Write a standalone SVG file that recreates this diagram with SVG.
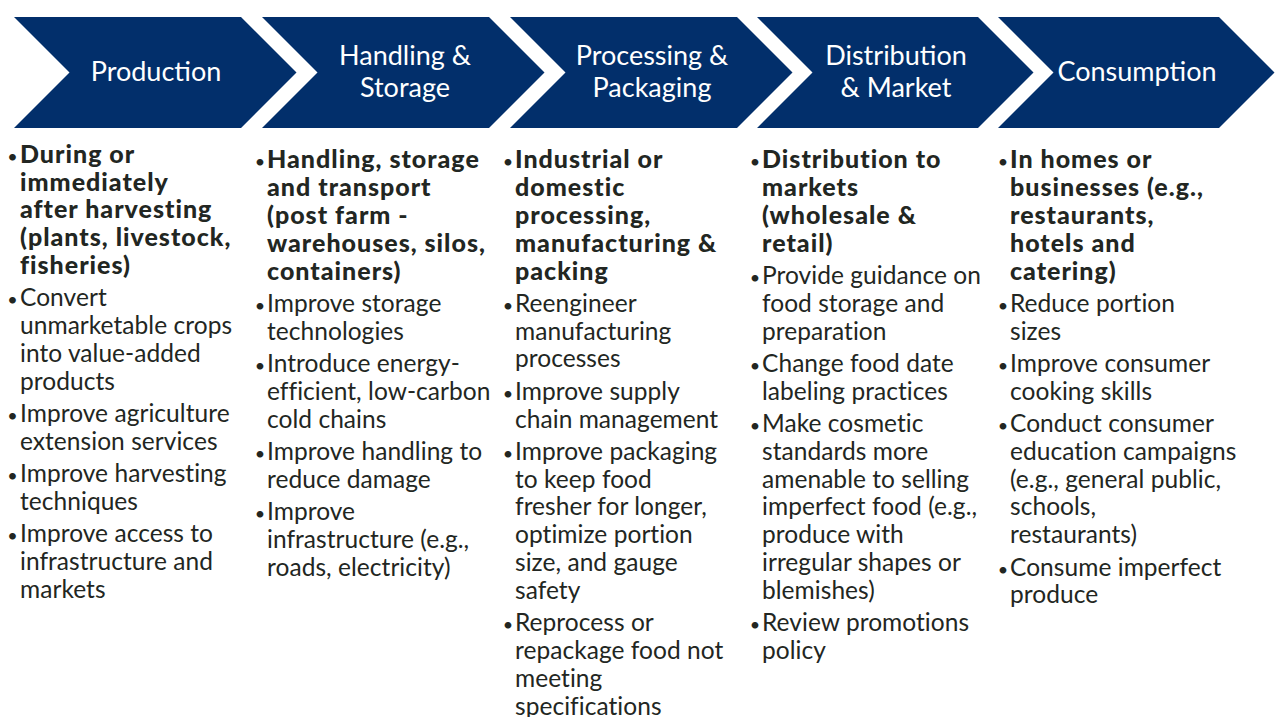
<svg xmlns="http://www.w3.org/2000/svg" width="1276" height="717" viewBox="0 0 1276 717">
<style>
.chev{fill:#022F6B}
.title{font-family:Lato,"Open Sans","Liberation Sans",sans-serif;font-size:27px;fill:#FFFFFF;text-anchor:middle}
.body{font-family:Lato,"Open Sans","Liberation Sans",sans-serif;font-size:24.5px;letter-spacing:0.05px;fill:#222622}
.bold{font-weight:900;font-size:25px;letter-spacing:1px}
.bul{font-family:Lato,"Open Sans","Liberation Sans",sans-serif;font-size:18px;fill:#222622;text-anchor:middle}
</style>
<rect width="1276" height="717" fill="#FFFFFF"/>
<g id="stage-production">
<polygon class="chev" points="14,17 241,17 296.5,72.5 241,128 14,128 69.5,72.5"/>
<text class="title" x="156" y="81">Production</text>
<text class="bul" x="12.5" y="162.7">•</text>
<text class="body bold" x="20" y="162.7"><tspan x="20">During or</tspan><tspan x="20" dy="27.8">immediately</tspan><tspan x="20" dy="27.8">after harvesting</tspan><tspan x="20" dy="27.8">(plants, livestock,</tspan><tspan x="20" dy="27.8">fisheries)</tspan></text>
<text class="bul" x="12.5" y="306.2">•</text>
<text class="body" x="20" y="306.2"><tspan x="20">Convert</tspan><tspan x="20" dy="27.8">unmarketable crops</tspan><tspan x="20" dy="27.8">into value-added</tspan><tspan x="20" dy="27.8">products</tspan></text>
<text class="bul" x="12.5" y="421.9">•</text>
<text class="body" x="20" y="421.9"><tspan x="20">Improve agriculture</tspan><tspan x="20" dy="27.8">extension services</tspan></text>
<text class="bul" x="12.5" y="482">•</text>
<text class="body" x="20" y="482"><tspan x="20">Improve harvesting</tspan><tspan x="20" dy="27.8">techniques</tspan></text>
<text class="bul" x="12.5" y="542.1">•</text>
<text class="body" x="20" y="542.1"><tspan x="20">Improve access to</tspan><tspan x="20" dy="27.8">infrastructure and</tspan><tspan x="20" dy="27.8">markets</tspan></text>
</g>
<g id="stage-handling">
<polygon class="chev" points="262,17 489,17 544.5,72.5 489,128 262,128 317.5,72.5"/>
<text class="title" x="405" y="65"><tspan x="405">Handling &amp;</tspan><tspan x="405" dy="31.5">Storage</tspan></text>
<text class="bul" x="260" y="168.3">•</text>
<text class="body bold" x="267" y="168.3"><tspan x="267">Handling, storage</tspan><tspan x="267" dy="27.8">and transport</tspan><tspan x="267" dy="27.8">(post farm -</tspan><tspan x="267" dy="27.8">warehouses, silos,</tspan><tspan x="267" dy="27.8">containers)</tspan></text>
<text class="bul" x="260" y="311.8">•</text>
<text class="body" x="267" y="311.8"><tspan x="267">Improve storage</tspan><tspan x="267" dy="27.8">technologies</tspan></text>
<text class="bul" x="260" y="371.9">•</text>
<text class="body" x="267" y="371.9"><tspan x="267">Introduce energy-</tspan><tspan x="267" dy="27.8">efficient, low-carbon</tspan><tspan x="267" dy="27.8">cold chains</tspan></text>
<text class="bul" x="260" y="459.8">•</text>
<text class="body" x="267" y="459.8"><tspan x="267">Improve handling to</tspan><tspan x="267" dy="27.8">reduce damage</tspan></text>
<text class="bul" x="260" y="519.9">•</text>
<text class="body" x="267" y="519.9"><tspan x="267">Improve</tspan><tspan x="267" dy="27.8">infrastructure (e.g.,</tspan><tspan x="267" dy="27.8">roads, electricity)</tspan></text>
</g>
<g id="stage-processing">
<polygon class="chev" points="510,17 737,17 792.5,72.5 737,128 510,128 565.5,72.5"/>
<text class="title" x="652" y="65"><tspan x="652">Processing &amp;</tspan><tspan x="652" dy="31.5">Packaging</tspan></text>
<text class="bul" x="508" y="168.3">•</text>
<text class="body bold" x="515" y="168.3"><tspan x="515">Industrial or</tspan><tspan x="515" dy="27.8">domestic</tspan><tspan x="515" dy="27.8">processing,</tspan><tspan x="515" dy="27.8">manufacturing &amp;</tspan><tspan x="515" dy="27.8">packing</tspan></text>
<text class="bul" x="508" y="311.8">•</text>
<text class="body" x="515" y="311.8"><tspan x="515">Reengineer</tspan><tspan x="515" dy="27.8">manufacturing</tspan><tspan x="515" dy="27.8">processes</tspan></text>
<text class="bul" x="508" y="399.7">•</text>
<text class="body" x="515" y="399.7"><tspan x="515">Improve supply</tspan><tspan x="515" dy="27.8">chain management</tspan></text>
<text class="bul" x="508" y="459.8">•</text>
<text class="body" x="515" y="459.8"><tspan x="515">Improve packaging</tspan><tspan x="515" dy="27.8">to keep food</tspan><tspan x="515" dy="27.8">fresher for longer,</tspan><tspan x="515" dy="27.8">optimize portion</tspan><tspan x="515" dy="27.8">size, and gauge</tspan><tspan x="515" dy="27.8">safety</tspan></text>
<text class="bul" x="508" y="631.1">•</text>
<text class="body" x="515" y="631.1"><tspan x="515">Reprocess or</tspan><tspan x="515" dy="27.8">repackage food not</tspan><tspan x="515" dy="27.8">meeting</tspan><tspan x="515" dy="27.8">specifications</tspan></text>
</g>
<g id="stage-distribution">
<polygon class="chev" points="757,17 978,17 1033.5,72.5 978,128 757,128 812.5,72.5"/>
<text class="title" x="896" y="65"><tspan x="896">Distribution</tspan><tspan x="896" dy="31.5">&amp; Market</tspan></text>
<text class="bul" x="755" y="168.3">•</text>
<text class="body bold" x="762" y="168.3"><tspan x="762">Distribution to</tspan><tspan x="762" dy="27.8">markets</tspan><tspan x="762" dy="27.8">(wholesale &amp;</tspan><tspan x="762" dy="27.8">retail)</tspan></text>
<text class="bul" x="755" y="284">•</text>
<text class="body" x="762" y="284"><tspan x="762">Provide guidance on</tspan><tspan x="762" dy="27.8">food storage and</tspan><tspan x="762" dy="27.8">preparation</tspan></text>
<text class="bul" x="755" y="371.9">•</text>
<text class="body" x="762" y="371.9"><tspan x="762">Change food date</tspan><tspan x="762" dy="27.8">labeling practices</tspan></text>
<text class="bul" x="755" y="432">•</text>
<text class="body" x="762" y="432"><tspan x="762">Make cosmetic</tspan><tspan x="762" dy="27.8">standards more</tspan><tspan x="762" dy="27.8">amenable to selling</tspan><tspan x="762" dy="27.8">imperfect food (e.g.,</tspan><tspan x="762" dy="27.8">produce with</tspan><tspan x="762" dy="27.8">irregular shapes or</tspan><tspan x="762" dy="27.8">blemishes)</tspan></text>
<text class="bul" x="755" y="631.1">•</text>
<text class="body" x="762" y="631.1"><tspan x="762">Review promotions</tspan><tspan x="762" dy="27.8">policy</tspan></text>
</g>
<g id="stage-consumption">
<polygon class="chev" points="998,17 1219,17 1274.5,72.5 1219,128 998,128 1053.5,72.5"/>
<text class="title" x="1137" y="81">Consumption</text>
<text class="bul" x="1003" y="168.3">•</text>
<text class="body bold" x="1010" y="168.3"><tspan x="1010">In homes or</tspan><tspan x="1010" dy="27.8">businesses (e.g.,</tspan><tspan x="1010" dy="27.8">restaurants,</tspan><tspan x="1010" dy="27.8">hotels and</tspan><tspan x="1010" dy="27.8">catering)</tspan></text>
<text class="bul" x="1003" y="311.8">•</text>
<text class="body" x="1010" y="311.8"><tspan x="1010">Reduce portion</tspan><tspan x="1010" dy="27.8">sizes</tspan></text>
<text class="bul" x="1003" y="371.9">•</text>
<text class="body" x="1010" y="371.9"><tspan x="1010">Improve consumer</tspan><tspan x="1010" dy="27.8">cooking skills</tspan></text>
<text class="bul" x="1003" y="432">•</text>
<text class="body" x="1010" y="432"><tspan x="1010">Conduct consumer</tspan><tspan x="1010" dy="27.8">education campaigns</tspan><tspan x="1010" dy="27.8">(e.g., general public,</tspan><tspan x="1010" dy="27.8">schools,</tspan><tspan x="1010" dy="27.8">restaurants)</tspan></text>
<text class="bul" x="1003" y="575.5">•</text>
<text class="body" x="1010" y="575.5"><tspan x="1010">Consume imperfect</tspan><tspan x="1010" dy="27.8">produce</tspan></text>
</g>
<g id="connectors"/>
</svg>
